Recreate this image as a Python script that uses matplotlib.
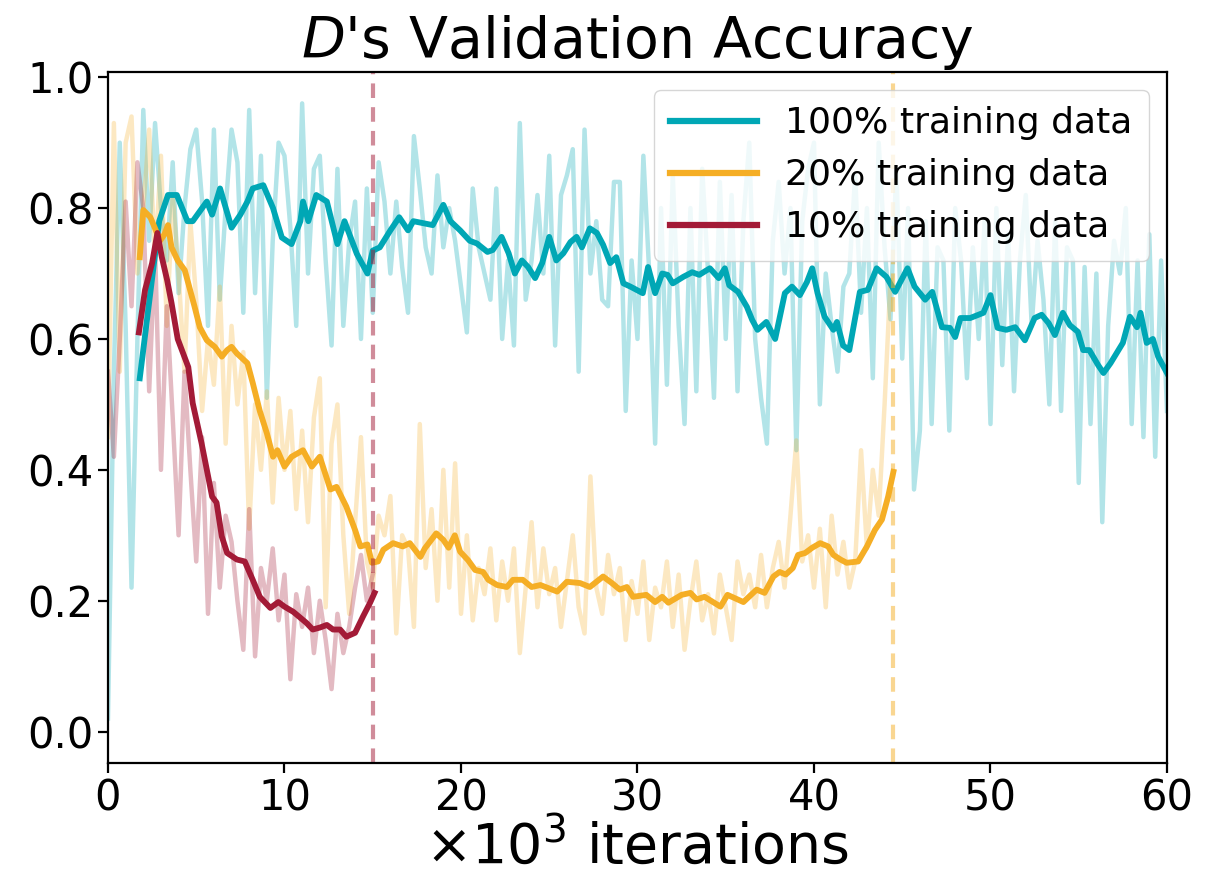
import numpy as np
import matplotlib
matplotlib.use("Agg")
import matplotlib.pyplot as plt

# ---------------- data ----------------
STEP = 1.0 / 3.0  # raw samples every ~333 iterations (x in 10^3)

raw_100 = [
    0.02, 0.55, 0.90,  0.62, 0.22, 0.60,  0.95, 0.75, 0.93,  0.80, 0.72, 0.87,
    0.67, 0.80, 0.89,  0.92, 0.81, 0.62,  0.92, 0.66, 0.80,  0.92, 0.87, 0.64,
    0.95, 0.67, 0.88,  0.51, 0.75, 0.90,  0.88, 0.77, 0.62,  0.96, 0.70, 0.86,
    0.88, 0.72, 0.59,  0.86, 0.62, 0.75,  0.81, 0.60, 0.83,  0.64, 0.87, 0.81,
    0.70, 0.81, 0.71,  0.64, 0.91, 0.83,  0.74, 0.70, 0.85,  0.74, 0.80, 0.75,
    0.68, 0.61, 0.83,  0.74, 0.70, 0.66,  0.83, 0.60, 0.72,  0.59, 0.93, 0.66,
    0.72, 0.82, 0.70,  0.88, 0.59, 0.82,  0.85, 0.89, 0.55,  0.92, 0.70, 0.78,
    0.66, 0.65, 0.84,  0.84, 0.49, 0.72,  0.60, 0.88, 0.70,  0.44, 0.80, 0.53,
    0.85, 0.62, 0.47,  0.80, 0.52, 0.86,  0.70, 0.51, 0.84,  0.60, 0.82, 0.52,
    0.78, 0.90, 0.60,  0.51, 0.44, 0.75,  0.84, 0.70, 0.80,  0.43, 0.78, 0.86,
    0.90, 0.50, 0.70,  0.62, 0.55, 0.68,  0.70, 0.85, 0.64,  0.80, 0.54, 0.90,
    0.74, 0.63, 0.86,  0.57, 0.80, 0.37,  0.46, 0.78, 0.47,  0.74, 0.72, 0.46,
    0.80, 0.72, 0.54,  0.74, 0.60, 0.78,  0.47, 0.80, 0.56,  0.76, 0.52, 0.72,
    0.82, 0.62, 0.75,  0.66, 0.50, 0.78,  0.49, 0.74, 0.72,  0.38, 0.71, 0.47,
    0.70, 0.32, 0.62,  0.75, 0.70, 0.80,  0.47, 0.72, 0.45,  0.76, 0.42, 0.72,
    0.49,
]

raw_20 = [
    0.45, 0.93, 0.55,  0.90, 0.94, 0.70,  0.80, 0.92, 0.72,  0.88, 0.62, 0.82,
    0.70, 0.55, 0.78,  0.66, 0.49, 0.60,  0.53, 0.68, 0.44,  0.62, 0.50, 0.58,
    0.31, 0.50, 0.40,  0.52, 0.35, 0.51,  0.40, 0.49, 0.34,  0.46, 0.32, 0.48,
    0.54, 0.19, 0.44,  0.50, 0.30, 0.18,  0.32, 0.45, 0.26,  0.22, 0.33, 0.30,
    0.36, 0.15, 0.30,  0.28, 0.16, 0.47,  0.25, 0.34, 0.20,  0.40, 0.22, 0.41,
    0.18, 0.30, 0.17,  0.25, 0.21, 0.28,  0.17, 0.26, 0.20,  0.28, 0.12, 0.22,
    0.32, 0.19, 0.28,  0.21, 0.25, 0.16,  0.23, 0.30, 0.19,  0.15, 0.39, 0.22,
    0.18, 0.27, 0.21,  0.25, 0.14, 0.23,  0.18, 0.26, 0.14,  0.22, 0.19, 0.26,
    0.16, 0.24, 0.125, 0.20, 0.26, 0.17,  0.21, 0.15, 0.24,  0.19, 0.14, 0.26,
    0.21, 0.24, 0.19,  0.27, 0.19, 0.25,  0.29, 0.22, 0.33,  0.445, 0.26, 0.30,
    0.22, 0.31, 0.19,  0.33, 0.24, 0.29,  0.22, 0.26, 0.43,  0.28, 0.40, 0.33,
    0.50, 0.69,
]

raw_10 = [
    0.55, 0.42, 0.60,  0.81, 0.65, 0.87,  0.80, 0.52, 0.74,  0.40, 0.65, 0.48,
    0.30, 0.55, 0.40,  0.26, 0.45, 0.18,  0.38, 0.22, 0.33,  0.29, 0.20, 0.125,
    0.34, 0.115, 0.25, 0.20, 0.28, 0.17,  0.24, 0.08, 0.21,  0.16, 0.22, 0.12,
    0.20, 0.14, 0.065, 0.18, 0.12, 0.16,  0.22, 0.27, 0.20,  0.24,
]

smooth_100_x = [1.8, 2.9, 3.4, 3.9, 4.5, 4.8, 5.6, 5.9, 6.35, 7.0, 7.5, 7.9, 8.2, 8.8,
                9.35, 9.85, 10.4, 10.9, 11.05, 11.35, 11.8, 12.4, 13.0, 13.4, 14.1,
                14.7, 15.0, 15.4, 16.0, 16.5, 17.0, 17.3, 17.85, 18.4, 19.0, 19.4,
                19.95, 20.5, 20.9, 21.5, 21.8, 22.3, 22.7, 23.05, 23.45, 23.8, 24.2,
                24.6, 25.0, 25.4, 25.8, 26.2, 26.55, 26.85, 27.3, 27.7, 28.05, 28.45,
                28.8, 29.2, 29.6, 29.95, 30.3, 30.6, 31.0, 31.4, 31.7, 32.0, 32.6,
                33.1, 33.5, 34.1, 34.6, 34.95, 35.2, 35.7, 36.2, 36.5, 36.8, 37.3,
                37.8, 38.35, 38.75, 39.2, 39.6, 39.9, 40.2, 40.6, 41.1, 41.3, 41.65,
                42.0, 42.6, 43.05, 43.55, 44.1, 44.6, 45.3, 45.7, 46.3, 46.7, 47.25,
                47.7, 48.0, 48.3, 48.85, 49.6, 50.0, 50.4, 50.9, 51.4, 51.95, 52.5,
                52.9, 53.3, 53.65, 54.1, 54.5, 54.95, 55.25, 55.6, 56.1, 56.4, 56.8,
                57.5, 57.9, 58.3, 58.5, 58.85, 59.2, 59.5, 60.0]
smooth_100_y = [0.54, 0.78, 0.82, 0.82, 0.78, 0.78, 0.81, 0.79, 0.83, 0.77, 0.79, 0.81,
                0.83, 0.835, 0.80, 0.755, 0.745, 0.78, 0.81, 0.78, 0.82, 0.81, 0.745,
                0.78, 0.73, 0.70, 0.735, 0.74, 0.766, 0.786, 0.766, 0.78, 0.777,
                0.774, 0.805, 0.78, 0.766, 0.75, 0.746, 0.733, 0.736, 0.756, 0.731,
                0.70, 0.72, 0.71, 0.693, 0.716, 0.756, 0.72, 0.731, 0.748, 0.756,
                0.74, 0.769, 0.762, 0.744, 0.716, 0.725, 0.685, 0.68, 0.675, 0.67,
                0.71, 0.67, 0.70, 0.698, 0.685, 0.695, 0.702, 0.698, 0.708, 0.693,
                0.708, 0.682, 0.672, 0.649, 0.629, 0.614, 0.626, 0.60, 0.67, 0.68,
                0.667, 0.687, 0.708, 0.67, 0.634, 0.614, 0.626, 0.59, 0.583, 0.672,
                0.675, 0.708, 0.695, 0.672, 0.708, 0.68, 0.66, 0.672, 0.618, 0.617,
                0.603, 0.632, 0.632, 0.64, 0.667, 0.617, 0.614, 0.618, 0.598, 0.632,
                0.637, 0.624, 0.606, 0.64, 0.621, 0.611, 0.583, 0.583, 0.56, 0.548,
                0.563, 0.594, 0.634, 0.618, 0.64, 0.594, 0.60, 0.573, 0.548]

smooth_20_x = [1.8, 2.0, 2.4, 2.65, 2.95, 3.2, 3.4, 3.6, 3.95, 4.35, 4.65, 4.9, 5.2, 5.6,
               6.05, 6.45, 6.75, 7.0, 7.3, 7.5, 7.9, 8.2, 8.6, 9.0, 9.35, 9.6, 10.0,
               10.4, 11.05, 11.55, 12.0, 12.6, 12.95, 13.5, 14.0, 14.3, 14.7, 14.95,
               15.3, 15.6, 16.15, 16.7, 17.1, 17.7, 17.95, 18.6, 19.0, 19.3, 19.65,
               19.95, 20.4, 20.8, 21.25, 21.55, 22.05, 22.6, 22.95, 23.5, 24.0, 24.5,
               25.45, 26.0, 26.75, 27.3, 28.05, 28.55, 29.0, 29.4, 29.75, 30.5, 31.0,
               31.4, 31.75, 32.5, 33.0, 33.35, 33.8, 34.7, 35.1, 36.0, 36.75, 37.2,
               37.7, 38.05, 38.4, 38.8, 39.1, 39.5, 39.9, 40.35, 40.8, 41.1, 41.5,
               41.85, 42.5, 43.0, 43.45, 43.85, 44.2, 44.5]
smooth_20_y = [0.725, 0.797, 0.786, 0.77, 0.75, 0.76, 0.774, 0.74, 0.72, 0.705, 0.675,
               0.65, 0.618, 0.598, 0.588, 0.573, 0.583, 0.588, 0.578, 0.573, 0.563,
               0.533, 0.49, 0.456, 0.42, 0.43, 0.405, 0.42, 0.43, 0.405, 0.42, 0.37,
               0.374, 0.344, 0.308, 0.283, 0.286, 0.258, 0.26, 0.278, 0.288, 0.283,
               0.288, 0.267, 0.28, 0.303, 0.293, 0.281, 0.30, 0.275, 0.262, 0.247,
               0.244, 0.232, 0.224, 0.221, 0.232, 0.232, 0.221, 0.224, 0.214, 0.229,
               0.227, 0.221, 0.237, 0.227, 0.217, 0.221, 0.206, 0.209, 0.198, 0.206,
               0.197, 0.209, 0.212, 0.202, 0.206, 0.191, 0.209, 0.198, 0.217, 0.212,
               0.237, 0.244, 0.24, 0.25, 0.27, 0.273, 0.281, 0.288, 0.283, 0.27,
               0.263, 0.258, 0.26, 0.283, 0.308, 0.324, 0.359, 0.397]

smooth_10_x = [1.75, 2.1, 2.5, 2.8, 3.05, 3.35, 3.6, 3.95, 4.55, 4.8, 5.3, 5.6, 5.9,
               6.15, 6.45, 6.75, 7.3, 7.75, 8.2, 8.6, 9.2, 9.65, 10.0, 10.5, 10.9,
               11.25, 11.6, 12.0, 12.4, 12.75, 13.15, 13.5, 14.0, 14.45, 14.85, 15.1]
smooth_10_y = [0.61, 0.675, 0.716, 0.762, 0.725, 0.69, 0.655, 0.60, 0.557, 0.502,
               0.441, 0.40, 0.359, 0.35, 0.298, 0.273, 0.263, 0.26, 0.232, 0.206,
               0.189, 0.198, 0.191, 0.183, 0.174, 0.166, 0.156, 0.159, 0.163, 0.156,
               0.156, 0.145, 0.151, 0.176, 0.197, 0.212]

labels = ["100% training data", "20% training data", "10% training data"]
stop_10 = 15.0
stop_20 = 44.5

# ---------------- style ----------------
C100 = "#00A7B5"
C20 = "#F5AE25"
C10 = "#A31B37"

fig = plt.figure(figsize=(12.23, 8.81), dpi=100)
ax = fig.add_axes([0.0883, 0.1339, 0.8659, 0.7844])

x100 = np.arange(len(raw_100)) * STEP
x20 = np.arange(len(raw_20)) * STEP
x10 = np.arange(len(raw_10)) * STEP

ax.plot(x100, raw_100, color=C100, alpha=0.3, lw=3.2)
ax.plot(x20, raw_20, color=C20, alpha=0.28, lw=3.2)
ax.plot(x10, raw_10, color=C10, alpha=0.3, lw=3.2)

ax.plot(smooth_100_x, smooth_100_y, color=C100, lw=4.2, label=labels[0])
ax.plot(smooth_20_x, smooth_20_y, color=C20, lw=4.2, label=labels[1])
ax.plot(smooth_10_x, smooth_10_y, color=C10, lw=4.2, label=labels[2])

ax.axvline(stop_10, color=C10, alpha=0.5, lw=3, ls=(0, (3.5, 2.2)))
ax.axvline(stop_20, color=C20, alpha=0.5, lw=3, ls=(0, (3.5, 2.2)))

ax.set_xlim(0, 60)
ax.set_ylim(-0.048, 1.008)
ax.set_xticks([0, 10, 20, 30, 40, 50, 60])
ax.set_yticks([0.0, 0.2, 0.4, 0.6, 0.8, 1.0])
ax.tick_params(labelsize=30, length=7, width=1.6, direction="out")
for s in ax.spines.values():
    s.set_linewidth(1.6)
    s.set_color("black")

ax.set_title(r"$D$'s Validation Accuracy", fontsize=41, pad=8)
ax.set_xlabel(r"$\times 10^3$ iterations", fontsize=40, labelpad=0)

leg = ax.legend(loc="upper right", fontsize=26, handlelength=2.4, framealpha=0.8,
                fancybox=True, edgecolor="#cccccc", borderpad=0.45)
for h in leg.get_lines():
    h.set_linewidth(4.5)

fig.savefig("out.png", dpi=100)
